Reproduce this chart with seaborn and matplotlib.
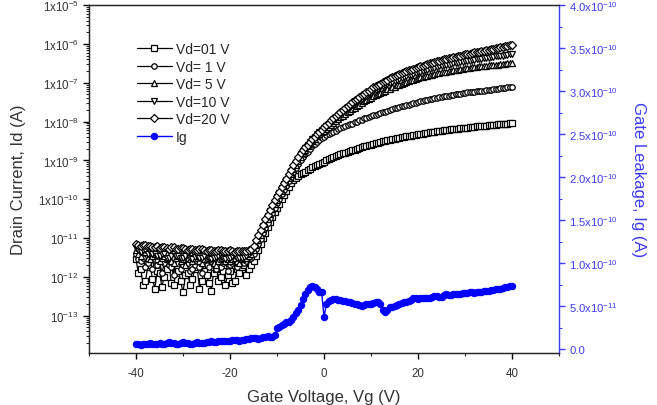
import numpy as np
import pandas as pd
import seaborn as sns
import matplotlib
matplotlib.use('Agg')
import matplotlib.pyplot as plt
from matplotlib.ticker import LogLocator, NullFormatter, MultipleLocator

# gate voltage sweep (V), 0.5 V steps
vg = np.arange(-40, 40.5, 0.5)

# drain current as log10(Id / A)
# first 49 points: off-state floor from -40 V to -16 V
log_id_vd01 = [
    -11.55, -11.9, -11.8, -12.2, -12.1, -11.75, -11.7, -12.05, -12.3, -11.85,
    -11.9, -12.25, -12.0, -11.8, -11.65, -12.15, -12.2, -11.9, -11.85, -12.1,
    -12.4, -11.95, -11.9, -12.2, -12.05, -11.8, -11.75, -12.3, -12.1, -11.85,
    -11.95, -12.15, -12.35, -11.9, -11.8, -12.1, -12.0, -11.85, -12.2, -11.95,
    -11.85, -12.15, -12.1, -11.8, -11.9, -11.75, -11.7, -11.95, -11.8,
    -11.7, -11.6, -11.45, -11.3, -11.15, -11.0, -10.86, -10.72, -10.59, -10.46,
    -10.34, -10.22, -10.11, -10.0, -9.89, -9.78, -9.68, -9.58, -9.5, -9.44,
    -9.4, -9.36, -9.32, -9.29, -9.25, -9.22, -9.18, -9.15, -9.12, -9.09,
    -9.06, -9.03, -9.0, -8.97, -8.94, -8.92, -8.89, -8.87, -8.84, -8.82,
    -8.8, -8.78, -8.76, -8.74, -8.72, -8.7, -8.68, -8.66, -8.64, -8.62,
    -8.6, -8.59, -8.57, -8.56, -8.54, -8.53, -8.51, -8.5, -8.48, -8.47,
    -8.45, -8.44, -8.43, -8.42, -8.4, -8.39, -8.38, -8.37, -8.36, -8.35,
    -8.34, -8.33, -8.32, -8.31, -8.3, -8.29, -8.28, -8.27, -8.26, -8.25,
    -8.24, -8.23, -8.225, -8.22, -8.21, -8.2, -8.195, -8.19, -8.18, -8.17,
    -8.165, -8.16, -8.155, -8.15, -8.14, -8.13, -8.125, -8.12, -8.115, -8.11,
    -8.105, -8.1, -8.09, -8.08, -8.075, -8.07, -8.065, -8.06, -8.055, -8.05,
    -8.04, -8.03]
log_id_vd1 = [
    -11.4, -11.55, -11.6, -11.5, -11.75, -11.65, -11.55, -11.8, -11.6, -11.7,
    -11.6, -11.9, -11.65, -11.55, -11.7, -11.75, -11.95, -11.6, -11.65, -11.8,
    -11.7, -11.6, -11.65, -11.85, -11.8, -11.7, -11.6, -11.75, -11.9, -11.65,
    -11.7, -11.75, -11.6, -11.55, -11.8, -11.7, -11.75, -11.65, -11.6, -11.85,
    -11.7, -11.65, -11.6, -11.75, -11.6, -11.55, -11.65, -11.6, -11.55,
    -11.5, -11.4, -11.28, -11.15, -11.02, -10.88, -10.74, -10.6, -10.47, -10.35,
    -10.22, -10.1, -9.98, -9.87, -9.76, -9.65, -9.54, -9.43, -9.31, -9.2,
    -9.1, -9.0, -8.92, -8.84, -8.77, -8.7, -8.64, -8.58, -8.53, -8.48,
    -8.43, -8.39, -8.35, -8.32, -8.29, -8.26, -8.23, -8.2, -8.17, -8.15,
    -8.12, -8.1, -8.07, -8.05, -8.02, -8.0, -7.97, -7.95, -7.92, -7.9,
    -7.88, -7.86, -7.84, -7.82, -7.8, -7.78, -7.76, -7.74, -7.72, -7.7,
    -7.68, -7.66, -7.64, -7.62, -7.6, -7.59, -7.57, -7.56, -7.54, -7.53,
    -7.51, -7.5, -7.48, -7.47, -7.45, -7.44, -7.42, -7.41, -7.4, -7.39,
    -7.37, -7.36, -7.35, -7.34, -7.33, -7.32, -7.31, -7.3, -7.29, -7.28,
    -7.27, -7.26, -7.25, -7.24, -7.235, -7.23, -7.22, -7.21, -7.205, -7.2,
    -7.19, -7.18, -7.175, -7.17, -7.16, -7.15, -7.145, -7.14, -7.13, -7.12,
    -7.115, -7.11]
log_id_vd5 = [
    -11.3, -11.4, -11.45, -11.35, -11.35, -11.5, -11.55, -11.45, -11.4, -11.55,
    -11.6, -11.5, -11.45, -11.55, -11.5, -11.6, -11.65, -11.5, -11.45, -11.6,
    -11.55, -11.7, -11.5, -11.55, -11.6, -11.5, -11.45, -11.6, -11.65, -11.55,
    -11.55, -11.5, -11.5, -11.65, -11.7, -11.6, -11.55, -11.5, -11.6, -11.55,
    -11.6, -11.55, -11.5, -11.6, -11.65, -11.55, -11.5, -11.5, -11.45,
    -11.4, -11.3, -11.18, -11.05, -10.91, -10.77, -10.63, -10.5, -10.37, -10.25,
    -10.13, -10.01, -9.89, -9.78, -9.67, -9.56, -9.45, -9.34, -9.23, -9.12,
    -9.01, -8.9, -8.81, -8.72, -8.64, -8.57, -8.5, -8.44, -8.38, -8.33,
    -8.28, -8.23, -8.18, -8.13, -8.08, -8.03, -7.98, -7.94, -7.89, -7.85,
    -7.8, -7.76, -7.72, -7.68, -7.64, -7.6, -7.56, -7.52, -7.48, -7.45,
    -7.41, -7.38, -7.35, -7.32, -7.29, -7.26, -7.23, -7.2, -7.17, -7.15,
    -7.12, -7.1, -7.07, -7.05, -7.02, -7.0, -6.98, -6.96, -6.94, -6.92,
    -6.9, -6.88, -6.86, -6.85, -6.83, -6.82, -6.8, -6.79, -6.77, -6.76,
    -6.74, -6.73, -6.72, -6.71, -6.7, -6.69, -6.68, -6.67, -6.66, -6.65,
    -6.64, -6.63, -6.62, -6.61, -6.605, -6.6, -6.59, -6.58, -6.575, -6.57,
    -6.56, -6.55, -6.545, -6.54, -6.535, -6.53, -6.525, -6.52, -6.51, -6.5,
    -6.495, -6.49]
log_id_vd10 = [
    -11.25, -11.3, -11.35, -11.3, -11.3, -11.4, -11.35, -11.4, -11.4, -11.45,
    -11.45, -11.4, -11.4, -11.5, -11.5, -11.45, -11.4, -11.45, -11.45, -11.5,
    -11.5, -11.45, -11.42, -11.5, -11.55, -11.48, -11.45, -11.5, -11.5, -11.45,
    -11.4, -11.5, -11.55, -11.5, -11.48, -11.45, -11.45, -11.5, -11.55, -11.5,
    -11.5, -11.45, -11.45, -11.5, -11.52, -11.5, -11.48, -11.45, -11.4,
    -11.35, -11.25, -11.12, -10.98, -10.84, -10.7, -10.57, -10.44, -10.31, -10.19,
    -10.07, -9.95, -9.83, -9.72, -9.61, -9.5, -9.39, -9.28, -9.17, -9.06,
    -8.95, -8.84, -8.75, -8.67, -8.59, -8.52, -8.45, -8.39, -8.33, -8.28,
    -8.22, -8.17, -8.11, -8.06, -8.01, -7.96, -7.91, -7.86, -7.81, -7.76,
    -7.71, -7.67, -7.62, -7.58, -7.53, -7.49, -7.45, -7.41, -7.37, -7.33,
    -7.29, -7.26, -7.22, -7.19, -7.15, -7.12, -7.09, -7.06, -7.03, -7.0,
    -6.97, -6.95, -6.92, -6.9, -6.87, -6.85, -6.83, -6.81, -6.79, -6.77,
    -6.75, -6.73, -6.71, -6.69, -6.67, -6.66, -6.64, -6.63, -6.61, -6.6,
    -6.58, -6.57, -6.55, -6.54, -6.53, -6.52, -6.5, -6.49, -6.48, -6.47,
    -6.46, -6.45, -6.44, -6.43, -6.42, -6.41, -6.4, -6.39, -6.38, -6.37,
    -6.36, -6.35, -6.34, -6.33, -6.32, -6.31, -6.305, -6.3, -6.29, -6.28,
    -6.27, -6.26]
log_id_vd20 = [
    -11.15, -11.18, -11.2, -11.17, -11.18, -11.21, -11.2, -11.23, -11.22, -11.2,
    -11.25, -11.23, -11.22, -11.26, -11.27, -11.24, -11.24, -11.28, -11.28, -11.25,
    -11.25, -11.27, -11.3, -11.28, -11.27, -11.3, -11.3, -11.28, -11.28, -11.31,
    -11.32, -11.3, -11.3, -11.33, -11.33, -11.3, -11.3, -11.32, -11.34, -11.33,
    -11.31, -11.33, -11.35, -11.34, -11.32, -11.33, -11.34, -11.32, -11.3,
    -11.27, -11.2, -11.06, -10.92, -10.78, -10.65, -10.52, -10.4, -10.27, -10.15,
    -10.03, -9.92, -9.8, -9.69, -9.58, -9.47, -9.36, -9.25, -9.13, -9.02,
    -8.91, -8.8, -8.73, -8.66, -8.59, -8.52, -8.45, -8.39, -8.33, -8.27,
    -8.21, -8.15, -8.09, -8.03, -7.97, -7.92, -7.86, -7.81, -7.75, -7.7,
    -7.65, -7.6, -7.55, -7.5, -7.45, -7.41, -7.36, -7.32, -7.28, -7.24,
    -7.2, -7.16, -7.12, -7.09, -7.05, -7.02, -6.98, -6.95, -6.92, -6.89,
    -6.86, -6.83, -6.8, -6.78, -6.75, -6.73, -6.7, -6.68, -6.66, -6.64,
    -6.62, -6.6, -6.58, -6.56, -6.54, -6.52, -6.5, -6.48, -6.46, -6.45,
    -6.43, -6.42, -6.4, -6.39, -6.37, -6.36, -6.34, -6.33, -6.31, -6.3,
    -6.28, -6.27, -6.26, -6.25, -6.23, -6.22, -6.21, -6.2, -6.18, -6.17,
    -6.16, -6.15, -6.13, -6.12, -6.11, -6.1, -6.09, -6.08, -6.06, -6.05,
    -6.04, -6.03]

# gate leakage, in units of 1e-11 A
ig_e11 = [
    0.6, 0.55, 0.5, 0.6, 0.6, 0.65, 0.7, 0.6, 0.6, 0.65,
    0.7, 0.65, 0.6, 0.7, 0.8, 0.75, 0.7, 0.6, 0.6, 0.7,
    0.8, 0.75, 0.7, 0.65, 0.6, 0.7, 0.8, 0.75, 0.7, 0.75,
    0.8, 0.85, 0.9, 0.85, 0.8, 0.9, 1.0, 0.95, 0.9, 0.95,
    1.0, 1.05, 1.1, 1.05, 1.0, 1.05, 1.1, 1.15, 1.2, 1.25,
    1.3, 1.25, 1.2, 1.3, 1.4, 1.45, 1.5, 1.45, 1.4, 1.6,
    2.5, 2.6, 2.8, 2.9, 3.1, 3.2, 3.4, 3.7, 4.2, 4.6,
    5.1, 5.8, 6.4, 6.9, 7.2, 7.3, 7.2, 7.0, 6.7, 6.6,
    3.7, 5.3, 5.6, 5.7, 5.8, 5.8, 5.7, 5.7, 5.6, 5.6,
    5.5, 5.5, 5.4, 5.3, 5.2, 5.1, 5.0, 5.1, 5.2, 5.2,
    5.3, 5.4, 5.5, 5.5, 5.3, 4.6, 4.3, 4.6, 4.9, 4.9,
    5.0, 5.1, 5.3, 5.4, 5.5, 5.5, 5.6, 5.7, 5.9, 5.9,
    5.8, 5.9, 6.0, 6.0, 5.9, 6.0, 6.1, 6.2, 6.2, 6.1,
    6.1, 6.3, 6.4, 6.3, 6.3, 6.4, 6.4, 6.4, 6.4, 6.5,
    6.5, 6.5, 6.6, 6.6, 6.5, 6.6, 6.7, 6.7, 6.8, 6.8,
    6.8, 6.9, 6.9, 7.0, 7.0, 7.0, 7.1, 7.2, 7.2, 7.3,
    7.4]

series = [
    ('Vd=01 V', log_id_vd01, 's'),
    ('Vd= 1 V', log_id_vd1, 'o'),
    ('Vd= 5 V', log_id_vd5, '^'),
    ('Vd=10 V', log_id_vd10, 'v'),
    ('Vd=20 V', log_id_vd20, 'D'),
]

left_ticks = [1e-13, 1e-12, 1e-11, 1e-10, 1e-9, 1e-8, 1e-7, 1e-6, 1e-5]
left_labels = ['10$^{-13}$', '10$^{-12}$', '10$^{-11}$', '1x10$^{-10}$',
               '1x10$^{-9}$', '1x10$^{-8}$', '1x10$^{-7}$', '1x10$^{-6}$',
               '1x10$^{-5}$']
right_ticks = [0.0, 0.5e-10, 1.0e-10, 1.5e-10, 2.0e-10, 2.5e-10, 3.0e-10, 3.5e-10, 4.0e-10]
right_labels = ['0.0', '5.0x10$^{-11}$', '1.0x10$^{-10}$', '1.5x10$^{-10}$',
                '2.0x10$^{-10}$', '2.5x10$^{-10}$', '3.0x10$^{-10}$',
                '3.5x10$^{-10}$', '4.0x10$^{-10}$']

sns.set_style('ticks')
plt.rcParams['font.family'] = ['Liberation Sans', 'DejaVu Sans']
plt.rcParams['mathtext.fontset'] = 'custom'
plt.rcParams['mathtext.rm'] = 'Liberation Sans'
plt.rcParams['mathtext.it'] = 'Liberation Sans:italic'
plt.rcParams['mathtext.bf'] = 'Liberation Sans:bold'

blue = '#0000ff'
axis_blue = '#3c3cf0'
label_grey = '#333333'

fig = plt.figure(figsize=(6.57, 4.06), dpi=100)
ax = fig.add_axes([0.1355, 0.128, 0.7154, 0.857])
ax2 = ax.twinx()

for name, logs, mk in series:
    df = pd.DataFrame({'Vg': vg, 'Id': np.power(10.0, logs)})
    sns.lineplot(data=df, x='Vg', y='Id', ax=ax, color='black', lw=0.9,
                 marker=mk, ms=3.9 if mk != 'D' else 3.6, mfc='white', mec='black',
                 mew=0.9, label=name, legend=False, sort=False)

ig_df = pd.DataFrame({'Vg': vg, 'Ig': np.array(ig_e11) * 1e-11})
sns.lineplot(data=ig_df, x='Vg', y='Ig', ax=ax2, color=blue, lw=1.0,
             marker='o', ms=4.6, mfc=blue, mec=blue, label='Ig',
             legend=False, sort=False)

ax.set_yscale('log')
ax.set_xlim(-50, 50)
ax.set_ylim(1.1e-14, 1e-5)
ax.set_xticks([-40, -20, 0, 20, 40])
ax.set_xticklabels(['-40', '-20', '0', '20', '40'])
ax.xaxis.set_minor_locator(MultipleLocator(10))
ax.set_yticks(left_ticks)
ax.set_yticklabels(left_labels)
ax.yaxis.set_minor_locator(LogLocator(base=10, subs=np.arange(2, 10), numticks=20))
ax.yaxis.set_minor_formatter(NullFormatter())
ax.tick_params(axis='both', which='major', direction='out', length=4, width=1,
               labelsize=8.3, colors='black', labelcolor=label_grey)
ax.tick_params(axis='both', which='minor', direction='out', length=2, width=0.8)
ax.tick_params(axis='x', pad=6)
ax.set_xlabel('Gate Voltage, Vg (V)', fontsize=12, color=label_grey, labelpad=7)
ax.set_ylabel('Drain Current, Id (A)', fontsize=12, color=label_grey, labelpad=9)
ax.spines['right'].set_visible(False)
for s in ['left', 'top', 'bottom']:
    ax.spines[s].set_linewidth(1.0)

ax2.set_ylim(-4.5e-12, 4.0e-10)
ax2.set_yticks(right_ticks)
ax2.set_yticklabels(right_labels)
ax2.yaxis.set_minor_locator(MultipleLocator(0.25e-10))
ax2.tick_params(axis='y', which='major', direction='out', length=4, width=1,
                colors=axis_blue, labelcolor=axis_blue, labelsize=8.1)
ax2.tick_params(axis='y', which='minor', direction='out', length=2, width=0.8,
                colors=axis_blue)
ax2.spines['right'].set_color(axis_blue)
ax2.spines['right'].set_linewidth(1.0)
ax2.set_ylabel('Gate Leakage, Ig (A)', fontsize=12, color=axis_blue,
               rotation=270, labelpad=20)

h1, l1 = ax.get_legend_handles_labels()
h2, l2 = ax2.get_legend_handles_labels()
ax2.legend(h1 + h2, l1 + l2, loc='upper left', bbox_to_anchor=(0.102, 0.893),
           frameon=False, fontsize=10, handlelength=2.5, handletextpad=0.3,
           labelspacing=0.25, borderpad=0, borderaxespad=0)

fig.savefig('out.png', dpi=100)
